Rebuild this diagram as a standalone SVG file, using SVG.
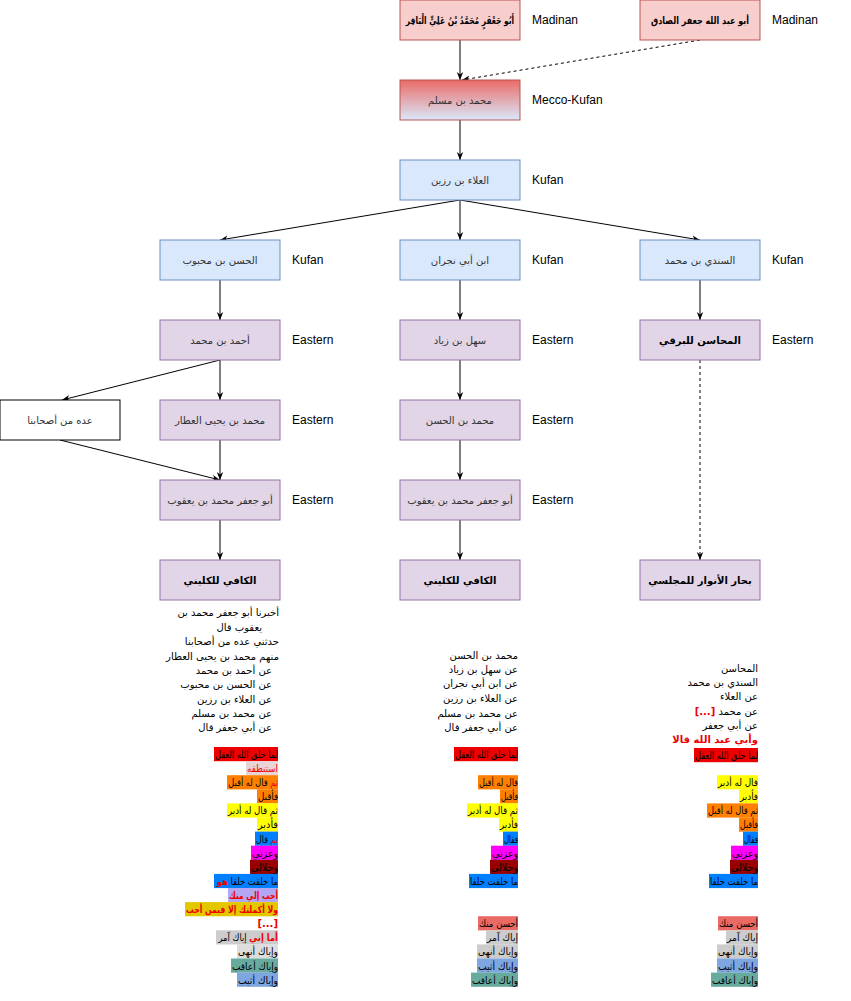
<svg xmlns="http://www.w3.org/2000/svg" width="851" height="1001" viewBox="0 0 851 1001">
<style>
.pink{fill:#f8cecc;stroke:#b85450;stroke-width:1}
.blue{fill:#dae8fc;stroke:#6c8ebf;stroke-width:1}
.purple{fill:#e1d5e7;stroke:#9673a6;stroke-width:1}
.white{fill:#ffffff;stroke:#000000;stroke-width:1}
.grad{fill:url(#g1);stroke:#b85450;stroke-width:1}
.ar{font-family:"DejaVu Sans",sans-serif;font-size:10px;fill:#333333}
.arb{font-family:"DejaVu Sans",sans-serif;font-size:10px;font-weight:bold;fill:#000000}
.lbl{font-family:"Liberation Sans",Arial,sans-serif;font-size:12px;fill:#000000}
.nar{font-family:"DejaVu Sans",sans-serif;font-size:10px;fill:#000000}
.red{fill:#ee0000}
.rb{fill:#ee0000;font-weight:bold}
.edge{fill:none;stroke:#000000;stroke-width:1}
.dash{stroke-dasharray:3 3}
</style>
<defs>
<linearGradient id="g1" x1="0" y1="0" x2="0" y2="1">
<stop offset="0" stop-color="#ea6b66"/>
<stop offset="1" stop-color="#dae8fc"/>
</linearGradient>
<marker id="arr" viewBox="0 0 10 10" refX="10" refY="5" markerWidth="8" markerHeight="8" markerUnits="userSpaceOnUse" orient="auto">
<path d="M0,1 L10,5 L0,9 L3,5 z" fill="#000000"/>
</marker>
</defs>
<rect width="851" height="1001" fill="#ffffff"/>

<g id="connectors">
<path class="edge" d="M460,40 L460,80" marker-end="url(#arr)"/>
<path class="edge dash" d="M700,40 L462,80" marker-end="url(#arr)"/>
<path class="edge" d="M460,120 L460,160" marker-end="url(#arr)"/>
<path class="edge" d="M460,200 L220,240" marker-end="url(#arr)"/>
<path class="edge" d="M460,200 L460,240" marker-end="url(#arr)"/>
<path class="edge" d="M460,200 L700,240" marker-end="url(#arr)"/>
<path class="edge" d="M220,280 L220,320" marker-end="url(#arr)"/>
<path class="edge" d="M460,280 L460,320" marker-end="url(#arr)"/>
<path class="edge" d="M700,280 L700,320" marker-end="url(#arr)"/>
<path class="edge" d="M220,360 L62,400" marker-end="url(#arr)"/>
<path class="edge" d="M220,360 L220,400" marker-end="url(#arr)"/>
<path class="edge" d="M60,440 L220,480" marker-end="url(#arr)"/>
<path class="edge" d="M220,440 L220,480" marker-end="url(#arr)"/>
<path class="edge" d="M220,520 L220,560" marker-end="url(#arr)"/>
<path class="edge" d="M460,360 L460,400" marker-end="url(#arr)"/>
<path class="edge" d="M460,440 L460,480" marker-end="url(#arr)"/>
<path class="edge" d="M460,520 L460,560" marker-end="url(#arr)"/>
<path class="edge dash" d="M700,360 L700,560" marker-end="url(#arr)"/>
</g>

<g id="n-baqir"><rect class="pink" x="400" y="0" width="120" height="40"/><text class="arb" transform="translate(460,24) scale(0.75,1)" x="0" y="0" text-anchor="middle" direction="rtl">أَبُو جَعْفَرٍ مُحَمَّدُ بْنُ عَلِيٍّ الْبَاقِر</text></g>
<g id="n-sadiq"><rect class="pink" x="640" y="0" width="120" height="40"/><text class="arb" transform="translate(700,24) scale(0.8,1)" x="0" y="0" text-anchor="middle" direction="rtl">أبو عبد الله جعفر الصادق</text></g>
<g id="n-muslim"><rect class="grad" x="400" y="80" width="120" height="40"/><text class="ar" x="460" y="104" text-anchor="middle" direction="rtl">محمد بن مسلم</text></g>
<g id="n-ala"><rect class="blue" x="400" y="160" width="120" height="40"/><text class="ar" x="460" y="184" text-anchor="middle" direction="rtl">العلاء بن رزين</text></g>
<g id="n-hasan-mahbub"><rect class="blue" x="160" y="240" width="120" height="40"/><text class="ar" x="220" y="264" text-anchor="middle" direction="rtl">الحسن بن محبوب</text></g>
<g id="n-najran"><rect class="blue" x="400" y="240" width="120" height="40"/><text class="ar" x="460" y="264" text-anchor="middle" direction="rtl">ابن أبي نجران</text></g>
<g id="n-sindi"><rect class="blue" x="640" y="240" width="120" height="40"/><text class="ar" x="700" y="264" text-anchor="middle" direction="rtl">السندي بن محمد</text></g>
<g id="n-ahmad"><rect class="purple" x="160" y="320" width="120" height="40"/><text class="ar" x="220" y="344" text-anchor="middle" direction="rtl">أحمد بن محمد</text></g>
<g id="n-sahl"><rect class="purple" x="400" y="320" width="120" height="40"/><text class="ar" x="460" y="344" text-anchor="middle" direction="rtl">سهل بن زياد</text></g>
<g id="n-mahasin"><rect class="purple" x="640" y="320" width="120" height="40"/><text class="arb" x="700" y="344" text-anchor="middle" direction="rtl">المحاسن للبرقي</text></g>
<g id="n-idda"><rect class="white" x="0" y="400" width="120" height="40"/><text class="ar" x="60" y="424" text-anchor="middle" direction="rtl">عده من أصحابنا</text></g>
<g id="n-attar"><rect class="purple" x="160" y="400" width="120" height="40"/><text class="ar" x="220" y="424" text-anchor="middle" direction="rtl">محمد بن يحيى العطار</text></g>
<g id="n-m-hasan"><rect class="purple" x="400" y="400" width="120" height="40"/><text class="ar" x="460" y="424" text-anchor="middle" direction="rtl">محمد بن الحسن</text></g>
<g id="n-kulayni-1"><rect class="purple" x="160" y="480" width="120" height="40"/><text class="ar" x="220" y="504" text-anchor="middle" direction="rtl">أبو جعفر محمد بن يعقوب</text></g>
<g id="n-kulayni-2"><rect class="purple" x="400" y="480" width="120" height="40"/><text class="ar" x="460" y="504" text-anchor="middle" direction="rtl">أبو جعفر محمد بن يعقوب</text></g>
<g id="n-kafi-1"><rect class="purple" x="160" y="560" width="120" height="40"/><text class="arb" x="220" y="584" text-anchor="middle" direction="rtl">الكافي للكليني</text></g>
<g id="n-kafi-2"><rect class="purple" x="400" y="560" width="120" height="40"/><text class="arb" x="460" y="584" text-anchor="middle" direction="rtl">الكافي للكليني</text></g>
<g id="n-bihar"><rect class="purple" x="640" y="560" width="120" height="40"/><text class="arb" x="700" y="584" text-anchor="middle" direction="rtl">بحار الأنوار للمجلسي</text></g>

<g id="region-labels" class="lbl">
<text x="532" y="24">Madinan</text>
<text x="772" y="24">Madinan</text>
<text x="532" y="104">Mecco-Kufan</text>
<text x="532" y="184">Kufan</text>
<text x="292" y="264">Kufan</text>
<text x="532" y="264">Kufan</text>
<text x="772" y="264">Kufan</text>
<text x="292" y="344">Eastern</text>
<text x="532" y="344">Eastern</text>
<text x="772" y="344">Eastern</text>
<text x="292" y="424">Eastern</text>
<text x="532" y="424">Eastern</text>
<text x="292" y="504">Eastern</text>
<text x="532" y="504">Eastern</text>
</g>

<g id="isnad-kafi-1" class="nar" direction="rtl" text-anchor="start">
<text x="279" y="616">أخبرنا أبو جعفر محمد بن</text>
<text x="262" y="631">يعقوب قال</text>
<text x="279" y="645">حدثني عده من أصحابنا</text>
<text x="279" y="660">منهم محمد بن يحيى العطار</text>
<text x="272" y="674">عن أحمد بن محمد</text>
<text x="272" y="688">عن الحسن بن محبوب</text>
<text x="272" y="703">عن العلاء بن رزين</text>
<text x="272" y="717">عن محمد بن مسلم</text>
<text x="272" y="731">عن أبي جعفر قال</text>
</g>
<g id="isnad-kafi-2" class="nar" direction="rtl" text-anchor="start">
<text x="518" y="659">محمد بن الحسن</text>
<text x="518" y="673">عن سهل بن زياد</text>
<text x="518" y="687">عن ابن أبي نجران</text>
<text x="518" y="702">عن العلاء بن رزين</text>
<text x="518" y="717">عن محمد بن مسلم</text>
<text x="518" y="731">عن أبي جعفر قال</text>
</g>
<g id="isnad-bihar" class="nar" direction="rtl" text-anchor="start">
<text x="758" y="672">المحاسن</text>
<text x="758" y="686">السندي بن محمد</text>
<text x="758" y="700">عن العلاء</text>
<text x="758" y="715">عن محمد <tspan class="rb">[...]</tspan></text>
<text x="758" y="729">عن أبي جعفر</text>
<text x="758" y="743" class="rb">وأبي عبد الله قالا</text>
</g>

<g id="matn-kafi-1">
<rect x="214" y="747" width="64" height="14.2" fill="#ee0000"/>
<rect x="246" y="761.1" width="32" height="14.2" fill="#e8d4d4"/>
<rect x="227" y="775.2" width="51" height="14.2" fill="#ff8000"/>
<rect x="257" y="789.3" width="21" height="14.2" fill="#ff8000"/>
<rect x="227" y="803.4" width="51" height="14.2" fill="#ffff00"/>
<rect x="257" y="817.5" width="21" height="14.2" fill="#ffff00"/>
<rect x="255" y="831.6" width="23" height="14.2" fill="#007fff"/>
<rect x="251" y="845.7" width="27" height="14.2" fill="#ff00ff"/>
<rect x="250" y="859.8" width="28" height="14.2" fill="#990000"/>
<rect x="214" y="873.9" width="64" height="14.2" fill="#007fff"/>
<rect x="228" y="888" width="50" height="14.2" fill="#b3a6f2"/>
<rect x="185" y="902.1" width="93" height="14.2" fill="#e3c800"/>
<rect x="216" y="930.3" width="62" height="14.2" fill="#cccccc"/>
<rect x="237" y="944.4" width="41" height="14.2" fill="#dddddd"/>
<rect x="231" y="958.5" width="47" height="14.2" fill="#67ab9f"/>
<rect x="237" y="972.6" width="41" height="14.2" fill="#7ea6e0"/>
<g class="nar" direction="rtl" text-anchor="start">
<text x="278" y="758" textLength="63" lengthAdjust="spacingAndGlyphs">لما خلق الله العقل</text>
<text x="278" y="772" class="red" textLength="31" lengthAdjust="spacingAndGlyphs">استنطقه</text>
<text transform="translate(278,786) scale(0.82,1)" x="0" y="0"><tspan class="red">ثم</tspan> قال له أقبل</text>
<text x="278" y="800" textLength="20" lengthAdjust="spacingAndGlyphs">فأقبل</text>
<text x="278" y="814" textLength="50" lengthAdjust="spacingAndGlyphs">ثم قال له أدبر</text>
<text x="278" y="828" textLength="20" lengthAdjust="spacingAndGlyphs">فأدبر</text>
<text transform="translate(278,843) scale(0.79,1)" x="0" y="0"><tspan class="red">ثم</tspan> قال</text>
<text x="278" y="857" textLength="26" lengthAdjust="spacingAndGlyphs">وعزتي</text>
<text x="278" y="871" textLength="27" lengthAdjust="spacingAndGlyphs">وجلالي</text>
<text transform="translate(278,885) scale(0.84,1)" x="0" y="0">ما خلقت خلقا <tspan class="rb">هو</tspan></text>
<text x="278" y="899" class="rb" textLength="49" lengthAdjust="spacingAndGlyphs">أحب إلي منك</text>
<text x="278" y="913" class="rb" textLength="92" lengthAdjust="spacingAndGlyphs">ولا أكملتك إلا فيمن أحب</text>
<text x="278" y="927" class="rb">[...]</text>
<text transform="translate(278,941) scale(0.84,1)" x="0" y="0"><tspan class="rb">أما إني</tspan> إياك آمر</text>
<text x="278" y="955" textLength="40" lengthAdjust="spacingAndGlyphs">وإياك أنهى</text>
<text x="278" y="970" textLength="46" lengthAdjust="spacingAndGlyphs">وإياك أعاقب</text>
<text x="278" y="984" textLength="40" lengthAdjust="spacingAndGlyphs">وإياك أثيب</text>
</g>
</g>

<g id="matn-kafi-2">
<rect x="454" y="747" width="64" height="14.2" fill="#ee0000"/>
<rect x="478" y="775.2" width="40" height="14.2" fill="#ff8000"/>
<rect x="500" y="789.3" width="18" height="14.2" fill="#ff8000"/>
<rect x="467" y="803.4" width="51" height="14.2" fill="#ffff00"/>
<rect x="499" y="817.5" width="19" height="14.2" fill="#ffff00"/>
<rect x="503" y="831.6" width="15" height="14.2" fill="#007fff"/>
<rect x="491" y="845.7" width="27" height="14.2" fill="#ff00ff"/>
<rect x="490" y="859.8" width="28" height="14.2" fill="#990000"/>
<rect x="469" y="873.9" width="49" height="14.2" fill="#007fff"/>
<rect x="478" y="916.2" width="40" height="14.2" fill="#ea6b66"/>
<rect x="486" y="930.3" width="32" height="14.2" fill="#cccccc"/>
<rect x="477" y="944.4" width="41" height="14.2" fill="#cccccc"/>
<rect x="477" y="958.5" width="41" height="14.2" fill="#7ea6e0"/>
<rect x="471" y="972.6" width="47" height="14.2" fill="#67ab9f"/>
<g class="nar" direction="rtl" text-anchor="start">
<text x="518" y="758" textLength="63" lengthAdjust="spacingAndGlyphs">لما خلق الله العقل</text>
<text x="518" y="786" textLength="39" lengthAdjust="spacingAndGlyphs">قال له أقبل</text>
<text x="518" y="800" textLength="17" lengthAdjust="spacingAndGlyphs">فأقبل</text>
<text x="518" y="814" textLength="50" lengthAdjust="spacingAndGlyphs">ثم قال له أدبر</text>
<text x="518" y="828" textLength="18" lengthAdjust="spacingAndGlyphs">فأدبر</text>
<text x="518" y="843" textLength="14" lengthAdjust="spacingAndGlyphs">فقال</text>
<text x="518" y="857" textLength="26" lengthAdjust="spacingAndGlyphs">وعزتي</text>
<text x="518" y="871" textLength="27" lengthAdjust="spacingAndGlyphs">وجلالي</text>
<text x="518" y="885" textLength="48" lengthAdjust="spacingAndGlyphs">ما خلقت خلقا</text>
<text x="518" y="927" textLength="39" lengthAdjust="spacingAndGlyphs">أحسن منك</text>
<text x="518" y="941" textLength="31" lengthAdjust="spacingAndGlyphs">إياك آمر</text>
<text x="518" y="955" textLength="40" lengthAdjust="spacingAndGlyphs">وإياك أنهى</text>
<text x="518" y="970" textLength="40" lengthAdjust="spacingAndGlyphs">وإياك أثيب</text>
<text x="518" y="984" textLength="46" lengthAdjust="spacingAndGlyphs">وإياك أعاقب</text>
</g>
</g>

<g id="matn-bihar">
<rect x="694" y="748" width="64" height="14.2" fill="#ee0000"/>
<rect x="717" y="775.2" width="41" height="14.2" fill="#ffff00"/>
<rect x="739" y="789.3" width="19" height="14.2" fill="#ffff00"/>
<rect x="707" y="803.4" width="51" height="14.2" fill="#ff8000"/>
<rect x="739" y="817.5" width="19" height="14.2" fill="#ff8000"/>
<rect x="743" y="831.6" width="15" height="14.2" fill="#007fff"/>
<rect x="731" y="845.7" width="27" height="14.2" fill="#ff00ff"/>
<rect x="730" y="859.8" width="28" height="14.2" fill="#990000"/>
<rect x="709" y="873.9" width="49" height="14.2" fill="#007fff"/>
<rect x="718" y="916.2" width="40" height="14.2" fill="#ea6b66"/>
<rect x="726" y="930.3" width="32" height="14.2" fill="#cccccc"/>
<rect x="717" y="944.4" width="41" height="14.2" fill="#cccccc"/>
<rect x="717" y="958.5" width="41" height="14.2" fill="#7ea6e0"/>
<rect x="711" y="972.6" width="47" height="14.2" fill="#67ab9f"/>
<g class="nar" direction="rtl" text-anchor="start">
<text x="758" y="759" textLength="63" lengthAdjust="spacingAndGlyphs">لما خلق الله العقل</text>
<text x="758" y="786" textLength="40" lengthAdjust="spacingAndGlyphs">قال له أدبر</text>
<text x="758" y="800" textLength="18" lengthAdjust="spacingAndGlyphs">فأدبر</text>
<text x="758" y="814" textLength="50" lengthAdjust="spacingAndGlyphs">ثم قال له أقبل</text>
<text x="758" y="828" textLength="18" lengthAdjust="spacingAndGlyphs">فأقبل</text>
<text x="758" y="843" textLength="14" lengthAdjust="spacingAndGlyphs">فقال</text>
<text x="758" y="857" textLength="26" lengthAdjust="spacingAndGlyphs">وعزتي</text>
<text x="758" y="871" textLength="27" lengthAdjust="spacingAndGlyphs">وجلالي</text>
<text x="758" y="885" textLength="48" lengthAdjust="spacingAndGlyphs">ما خلقت خلقا</text>
<text x="758" y="927" textLength="39" lengthAdjust="spacingAndGlyphs">أحسن منك</text>
<text x="758" y="941" textLength="31" lengthAdjust="spacingAndGlyphs">إياك آمر</text>
<text x="758" y="955" textLength="40" lengthAdjust="spacingAndGlyphs">وإياك أنهى</text>
<text x="758" y="970" textLength="40" lengthAdjust="spacingAndGlyphs">وإياك أثيب</text>
<text x="758" y="984" textLength="46" lengthAdjust="spacingAndGlyphs">وإياك أعاقب</text>
</g>
</g>
</svg>
